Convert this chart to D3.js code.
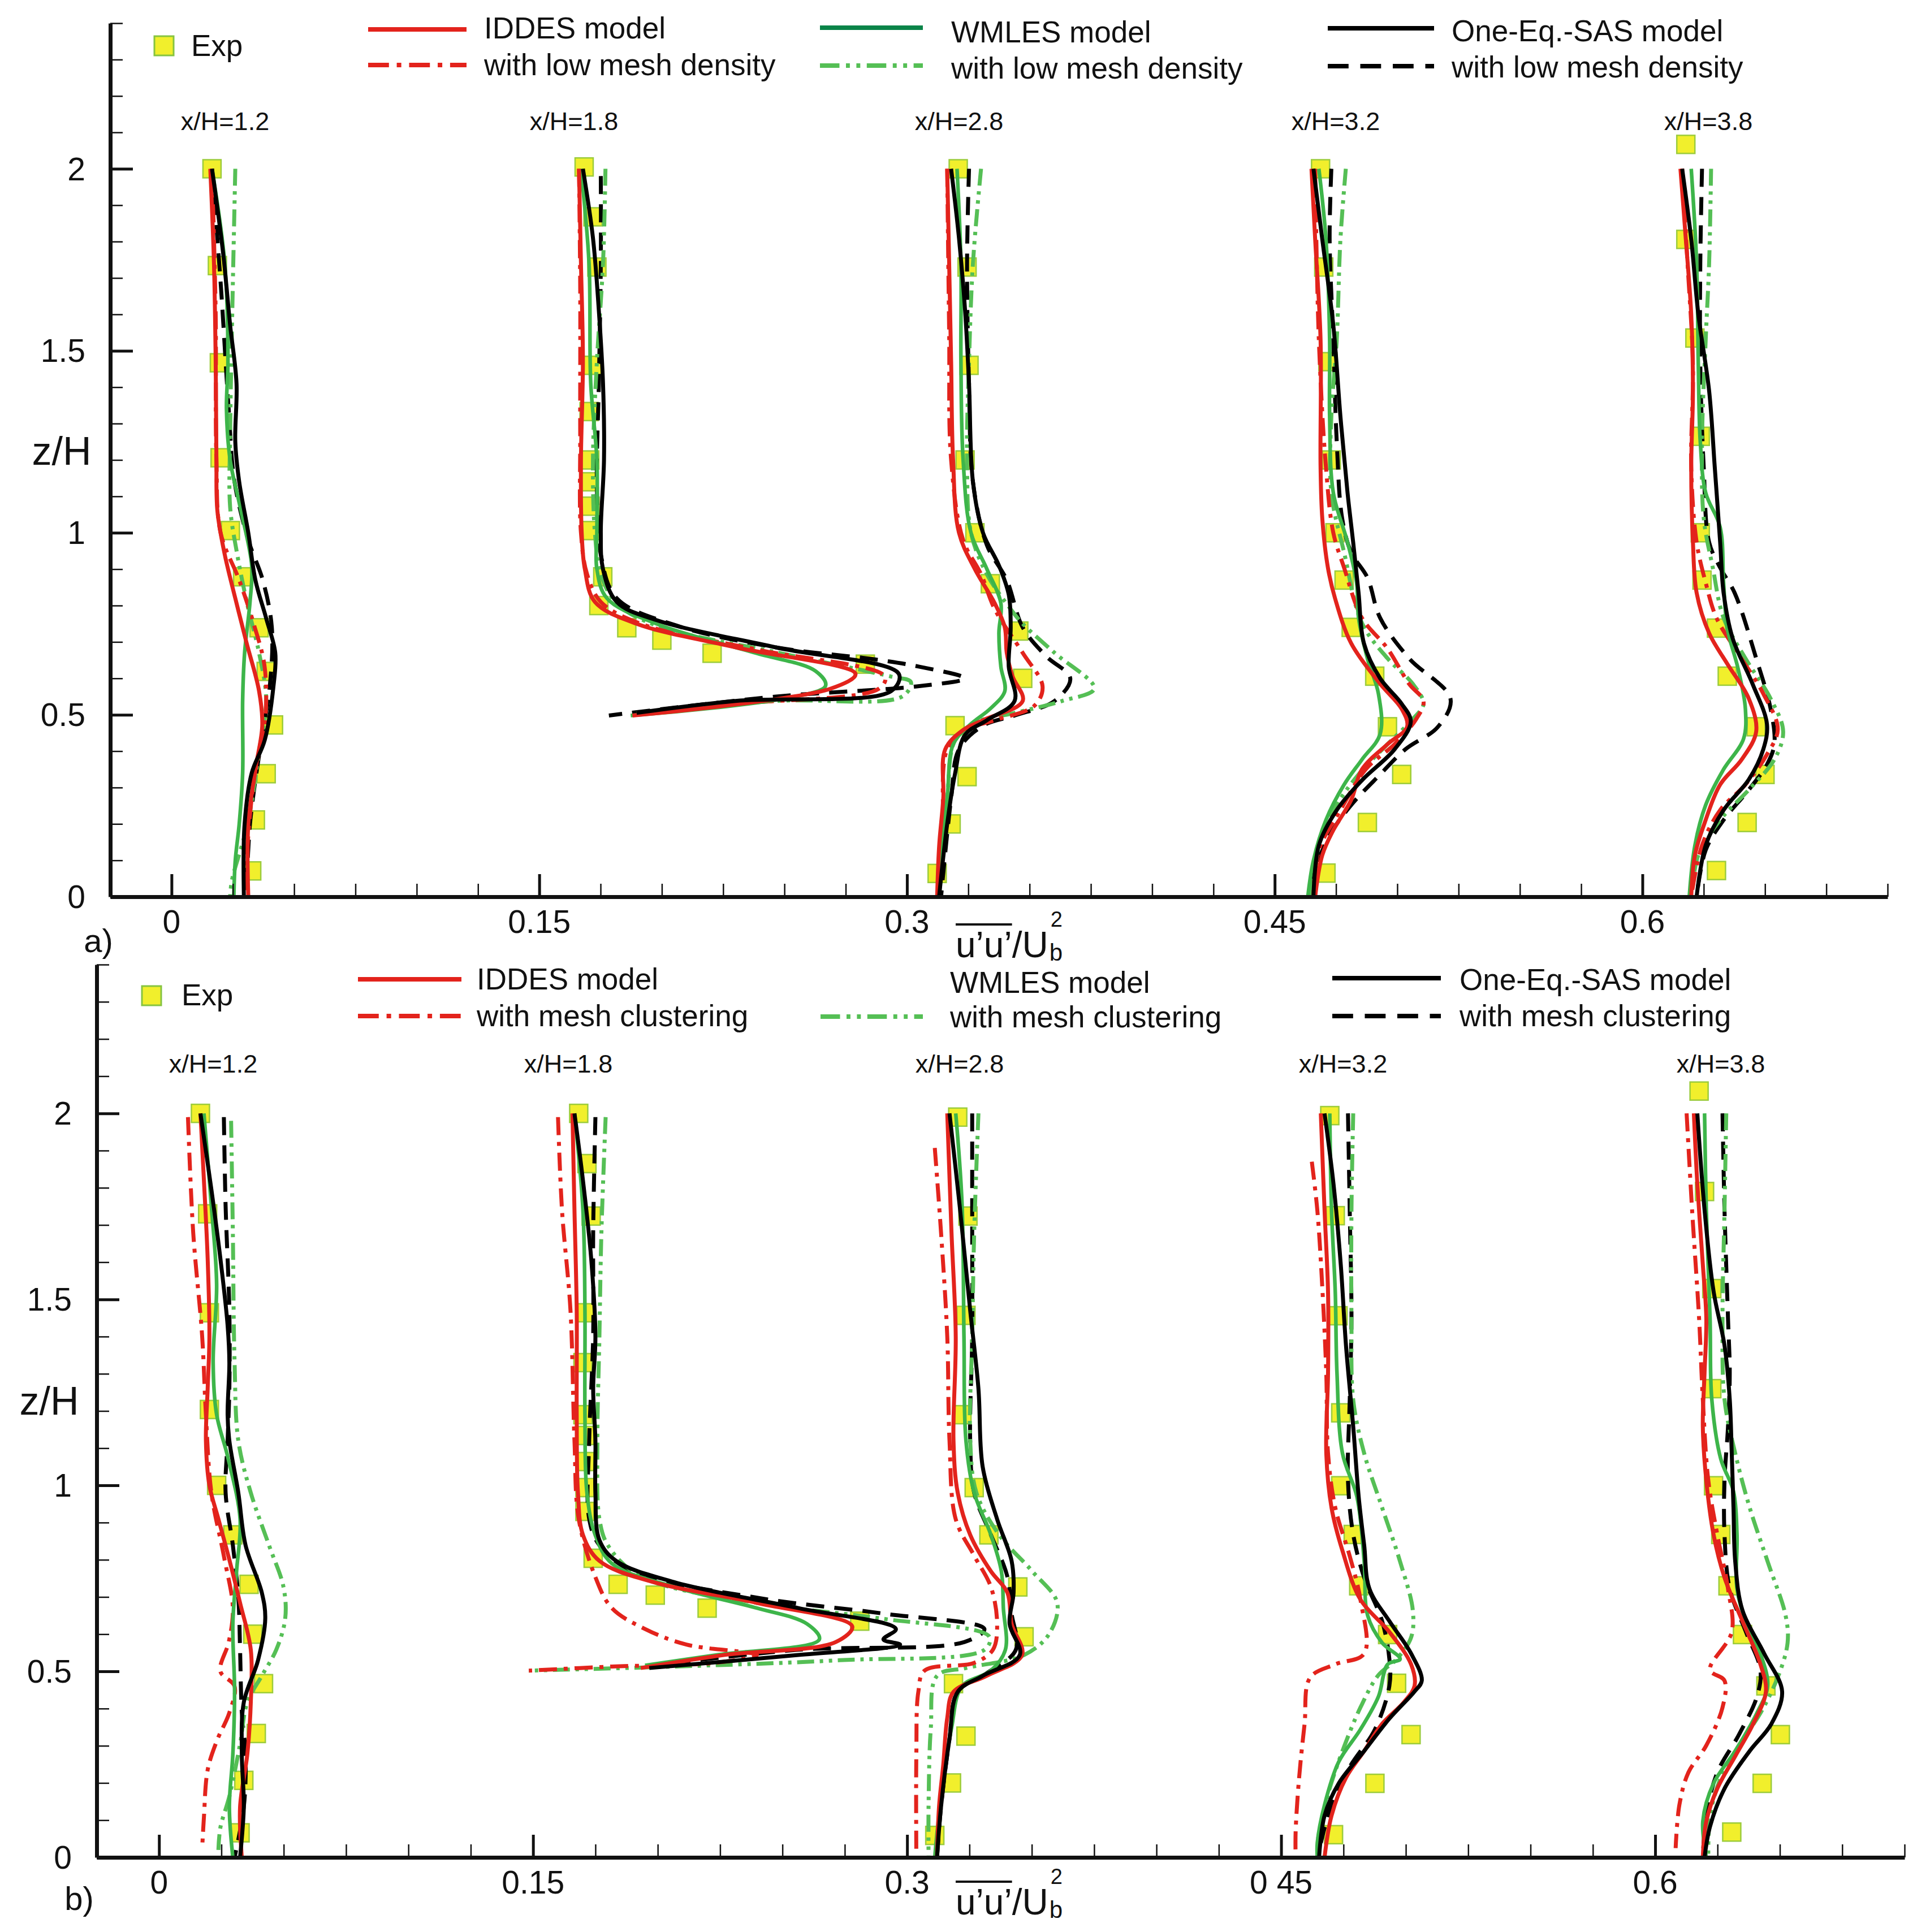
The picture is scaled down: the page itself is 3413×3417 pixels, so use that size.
<!DOCTYPE html>
<html><head><meta charset="utf-8">
<script src="https://cdn.jsdelivr.net/npm/d3@7"></script>
<style>
body{margin:0;background:#fff}
svg{display:block}
text{font-family:"Liberation Sans",Arial,Helvetica,sans-serif;fill:#111}
</style>
</head><body>
<svg id="chart" width="3413" height="3417"></svg>
<script>
// ---------------- data ----------------
const stationLabels = ["x/H=1.2","x/H=1.8","x/H=2.8","x/H=3.2","x/H=3.8"];
const stationOffsets = [0, 0.15, 0.3, 0.45, 0.6];
const xMajorTicks = [0, 0.15, 0.3, 0.45, 0.6];
const xTickLabelsA = ["0","0.15","0.3","0.45","0.6"];
const xTickLabelsB = ["0","0.15","0.3","0 45","0.6"];
const yMajorTicks = [0, 0.5, 1, 1.5, 2];
const yTickLabels = ["0","0.5","1","1.5","2"];
const legendNamesA = ["Exp","IDDES model","with low mesh density","WMLES model","with low mesh density","One-Eq.-SAS model","with low mesh density"];
const legendNamesB = ["Exp","IDDES model","with mesh clustering","WMLES model","with mesh clustering","One-Eq.-SAS model","with mesh clustering"];

// each series: one array per station, points are [u'u'/Ub^2, z/H]
// ---- panel a ----
const a_exp = [
 [[0.0165,2.0],[0.0187,1.734],[0.0195,1.467],[0.0198,1.206],[0.024,1.006],[0.029,0.879],[0.0357,0.739],[0.0386,0.619],[0.0416,0.472],[0.0386,0.338],[0.0342,0.211],[0.0327,0.071]],
 [[0.0183,2.005],[0.0219,1.868],[0.0235,1.73],[0.0219,1.46],[0.0203,1.333],[0.0206,1.2],[0.0203,1.14],[0.0207,1.073],[0.021,1.006],[0.0259,0.879],[0.0243,0.80],[0.0357,0.739],[0.05,0.705],[0.0705,0.669],[0.133,0.639]],
 [[0.0209,2.0],[0.0245,1.73],[0.0253,1.46],[0.0237,1.2],[0.0277,1.0],[0.034,0.86],[0.0456,0.73],[0.0472,0.6],[0.0196,0.47],[0.0245,0.33],[0.018,0.2],[0.0123,0.064]],
 [[0.0187,2.0],[0.02,1.73],[0.0217,1.47],[0.0231,1.2],[0.0246,1.0],[0.0283,0.87],[0.0312,0.74],[0.0408,0.606],[0.046,0.467],[0.0518,0.336],[0.0378,0.204],[0.0209,0.065]],
 [[0.0177,2.067],[0.0177,1.806],[0.0214,1.535],[0.0236,1.265],[0.0236,1.0],[0.0243,0.87],[0.0302,0.738],[0.0346,0.606],[0.0464,0.467],[0.05,0.336],[0.0427,0.204],[0.0302,0.072]]
];
const a_IDDES = [
 [[0.0158,2.0],[0.0173,1.74],[0.018,1.47],[0.0183,1.2],[0.0187,1.06],[0.0217,0.94],[0.026,0.82],[0.0305,0.70],[0.0357,0.565],[0.037,0.47],[0.0342,0.35],[0.0313,0.2],[0.0313,0]],
 [[0.0162,2.0],[0.017,1.74],[0.0178,1.47],[0.017,1.2],[0.0173,1.0],[0.0186,0.9],[0.0227,0.81],[0.0397,0.75],[0.0803,0.685],[0.129,0.612],[0.119,0.572],[0.038,0.498]],
 [[0.0164,2],[0.0172,1.74],[0.018,1.47],[0.0188,1.2],[0.0212,1.0],[0.0277,0.9],[0.0358,0.806],[0.0399,0.74],[0.0407,0.67],[0.0431,0.605],[0.0472,0.538],[0.031,0.485],[0.0229,0.458],[0.0156,0.405],[0.0148,0.27],[0.0131,0.138],[0.0123,0]],
 [[0.015,2],[0.0165,1.806],[0.0187,1.53],[0.0187,1.18],[0.0194,1.04],[0.0217,0.904],[0.0246,0.82],[0.0312,0.696],[0.043,0.585],[0.0518,0.516],[0.054,0.467],[0.046,0.419],[0.0356,0.35],[0.0312,0.266],[0.0239,0.183],[0.0194,0.114],[0.0165,0]],
 [[0.0155,2],[0.0177,1.806],[0.0199,1.6],[0.0206,1.39],[0.0199,1.18],[0.0206,0.974],[0.0221,0.835],[0.0272,0.724],[0.0346,0.64],[0.0434,0.544],[0.0464,0.454],[0.0405,0.377],[0.0317,0.308],[0.0258,0.211],[0.0214,0.114],[0.0199,0]]
];
const a_IDDES_low = [
 [[0.0165,2],[0.018,1.6],[0.0183,1.2],[0.02,1.0],[0.0276,0.87],[0.0335,0.75],[0.038,0.63],[0.038,0.47],[0.034,0.34],[0.031,0.14],[0.0305,0]],
 [[0.0162,2],[0.0167,1.67],[0.0167,1.27],[0.017,1.0],[0.0195,0.886],[0.0251,0.81],[0.0413,0.75],[0.088,0.68],[0.141,0.605],[0.1386,0.572],[0.08,0.53],[0.0381,0.5]],
 [[0.0164,2],[0.0172,1.55],[0.018,1.2],[0.0229,0.98],[0.0302,0.886],[0.0358,0.79],[0.0472,0.67],[0.0553,0.578],[0.052,0.525],[0.0358,0.485],[0.0237,0.458],[0.0164,0.405],[0.0145,0.2],[0.0128,0]],
 [[0.0165,2],[0.018,1.53],[0.0209,1.18],[0.0239,1.0],[0.0283,0.904],[0.0356,0.766],[0.046,0.682],[0.0548,0.585],[0.0607,0.537],[0.0577,0.488],[0.0489,0.419],[0.0371,0.35],[0.0268,0.238],[0.018,0.128],[0.0158,0]],
 [[0.0162,2],[0.0184,1.74],[0.0206,1.46],[0.0199,1.18],[0.0221,0.974],[0.0258,0.863],[0.0302,0.766],[0.039,0.669],[0.0493,0.558],[0.0552,0.46],[0.0508,0.391],[0.042,0.308],[0.0317,0.238],[0.0243,0.141],[0.0199,0]]
];
const a_WMLES = [
 [[0.0165,2],[0.0217,1.74],[0.023,1.47],[0.0224,1.34],[0.0239,1.2],[0.028,1.07],[0.0327,0.91],[0.032,0.81],[0.0298,0.67],[0.029,0.54],[0.029,0.34],[0.0276,0.2],[0.026,0.1],[0.0254,0]],
 [[0.017,2],[0.0203,1.74],[0.021,1.41],[0.0235,1.2],[0.0235,1.0],[0.0235,0.9],[0.0276,0.82],[0.0478,0.75],[0.088,0.67],[0.1127,0.62],[0.1167,0.578],[0.0373,0.498]],
 [[0.0204,2],[0.022,1.74],[0.022,1.47],[0.0229,1.2],[0.0261,1.0],[0.0326,0.9],[0.0383,0.806],[0.0375,0.725],[0.0383,0.632],[0.0399,0.565],[0.0342,0.518],[0.0253,0.47],[0.0188,0.418],[0.0164,0.27],[0.0139,0.138],[0.0131,0]],
 [[0.018,2],[0.0209,1.806],[0.0224,1.53],[0.0224,1.32],[0.0239,1.11],[0.0297,0.974],[0.0334,0.863],[0.0342,0.766],[0.0378,0.655],[0.0423,0.558],[0.043,0.447],[0.0356,0.377],[0.0283,0.308],[0.0209,0.211],[0.0158,0.1],[0.0135,0]],
 [[0.0199,2],[0.0221,1.74],[0.0228,1.46],[0.0236,1.25],[0.0258,1.11],[0.0317,1.015],[0.0331,0.863],[0.0346,0.738],[0.039,0.627],[0.042,0.516],[0.0412,0.433],[0.0331,0.35],[0.0258,0.252],[0.0214,0.141],[0.0191,0]]
];
const a_WMLES_low = [
 [[0.026,2],[0.0246,1.55],[0.0239,1.27],[0.0239,1.07],[0.0268,0.94],[0.031,0.8],[0.0357,0.67],[0.0386,0.54],[0.0357,0.4],[0.031,0.2],[0.0246,0.044],[0.0239,0]],
 [[0.027,2],[0.026,1.74],[0.0235,1.47],[0.0219,1.2],[0.0227,1.0],[0.0251,0.886],[0.0316,0.806],[0.0478,0.745],[0.0965,0.672],[0.1435,0.605],[0.1516,0.59],[0.148,0.55],[0.0965,0.538],[0.0397,0.505]],
 [[0.0302,2],[0.0269,1.74],[0.0253,1.47],[0.0245,1.2],[0.0261,1.0],[0.0326,0.886],[0.0423,0.79],[0.0472,0.75],[0.0602,0.67],[0.0764,0.572],[0.0634,0.538],[0.044,0.505],[0.0277,0.478],[0.0196,0.43],[0.0164,0.27],[0.0131,0]],
 [[0.029,2],[0.0268,1.806],[0.0253,1.53],[0.0231,1.32],[0.0231,1.11],[0.0283,0.946],[0.0356,0.752],[0.046,0.655],[0.0563,0.585],[0.0607,0.53],[0.0563,0.488],[0.046,0.419],[0.0342,0.336],[0.0253,0.252],[0.018,0.141],[0.0143,0]],
 [[0.028,2],[0.0272,1.74],[0.0258,1.53],[0.0243,1.25],[0.025,1.04],[0.0287,0.904],[0.0331,0.766],[0.042,0.655],[0.0523,0.544],[0.0574,0.454],[0.0538,0.377],[0.0434,0.294],[0.0317,0.211],[0.0228,0.114],[0.0199,0]]
];
const a_SAS = [
 [[0.0165,2],[0.021,1.77],[0.0239,1.57],[0.0265,1.41],[0.026,1.25],[0.0276,1.14],[0.0313,1.0],[0.0342,0.87],[0.0386,0.765],[0.0423,0.67],[0.0416,0.58],[0.038,0.43],[0.0327,0.34],[0.0298,0.2],[0.0295,0]],
 [[0.0178,2],[0.0219,1.81],[0.0243,1.61],[0.026,1.41],[0.0264,1.2],[0.0251,1.0],[0.026,0.9],[0.0316,0.81],[0.0478,0.76],[0.0965,0.685],[0.1467,0.612],[0.1435,0.565],[0.08,0.538],[0.0397,0.505]],
 [[0.018,2],[0.0212,1.81],[0.0237,1.61],[0.0253,1.41],[0.0269,1.14],[0.031,1.0],[0.0375,0.91],[0.0415,0.83],[0.0423,0.74],[0.0415,0.632],[0.0439,0.538],[0.0326,0.485],[0.0237,0.445],[0.0196,0.338],[0.0164,0.2],[0.0131,0]],
 [[0.0158,2],[0.0194,1.806],[0.0239,1.57],[0.0268,1.32],[0.0297,1.11],[0.032,0.974],[0.0342,0.835],[0.0364,0.696],[0.043,0.6],[0.0518,0.53],[0.0555,0.481],[0.0489,0.405],[0.0356,0.32],[0.0253,0.238],[0.018,0.141],[0.0158,0]],
 [[0.0162,2],[0.0199,1.806],[0.0228,1.6],[0.0272,1.39],[0.0295,1.18],[0.0317,0.974],[0.0331,0.835],[0.0368,0.71],[0.0449,0.585],[0.0508,0.474],[0.0493,0.405],[0.0434,0.322],[0.0331,0.238],[0.0258,0.141],[0.0221,0]]
];
const a_SAS_low = [
 [[0.0165,2],[0.0202,1.67],[0.0232,1.35],[0.0257,1.14],[0.0313,0.98],[0.0372,0.87],[0.0409,0.74],[0.0401,0.58],[0.0364,0.42],[0.032,0.2],[0.0305,0]],
 [[0.0251,1.98],[0.0251,1.74],[0.0243,1.41],[0.0235,1.14],[0.0251,0.94],[0.0316,0.82],[0.056,0.745],[0.0965,0.685],[0.137,0.652],[0.155,0.632],[0.1735,0.6],[0.154,0.578],[0.0965,0.55],[0.0284,0.498]],
 [[0.0253,2],[0.0245,1.74],[0.0253,1.41],[0.0269,1.14],[0.0326,0.966],[0.0407,0.87],[0.0472,0.74],[0.0569,0.66],[0.0666,0.6],[0.0602,0.538],[0.0439,0.498],[0.031,0.47],[0.0212,0.405],[0.018,0.27],[0.0139,0]],
 [[0.0231,2],[0.0224,1.806],[0.0239,1.53],[0.0253,1.25],[0.0275,1.04],[0.0312,0.946],[0.0378,0.877],[0.043,0.766],[0.0548,0.655],[0.0717,0.544],[0.0666,0.467],[0.0533,0.405],[0.043,0.336],[0.0312,0.252],[0.0224,0.169],[0.0165,0.072],[0.015,0]],
 [[0.0243,2],[0.0236,1.74],[0.0236,1.46],[0.025,1.18],[0.0272,0.974],[0.0317,0.904],[0.0376,0.835],[0.0464,0.655],[0.0523,0.516],[0.0538,0.419],[0.0508,0.363],[0.0434,0.294],[0.0331,0.211],[0.0258,0.128],[0.0221,0]]
];
// ---- panel b ----
const b_exp = [
 [[0.0166,2.0],[0.0195,1.73],[0.0202,1.464],[0.0202,1.204],[0.0231,1.0],[0.0296,0.867],[0.0361,0.734],[0.0376,0.6],[0.0419,0.467],[0.039,0.333],[0.034,0.207],[0.0325,0.066]],
 [[0.0183,2],[0.0216,1.865],[0.0233,1.724],[0.0208,1.464],[0.02,1.33],[0.02,1.19],[0.0208,1.134],[0.0208,1.064],[0.0208,0.994],[0.0208,0.93],[0.0241,0.804],[0.0341,0.734],[0.049,0.705],[0.0698,0.67],[0.131,0.635]],
 [[0.0203,1.99],[0.0244,1.724],[0.0236,1.457],[0.022,1.19],[0.0269,0.994],[0.0328,0.867],[0.0444,0.727],[0.0469,0.593],[0.0186,0.467],[0.0236,0.326],[0.0178,0.2],[0.0111,0.059]],
 [[0.0195,1.994],[0.0217,1.725],[0.0228,1.456],[0.0239,1.195],[0.0239,0.999],[0.0289,0.868],[0.0311,0.73],[0.0427,0.599],[0.0463,0.468],[0.0521,0.33],[0.0376,0.199],[0.021,0.061]],
 [[0.0176,2.06],[0.0198,1.79],[0.0227,1.529],[0.0227,1.26],[0.0234,0.999],[0.0263,0.868],[0.0292,0.73],[0.035,0.599],[0.0444,0.461],[0.0502,0.33],[0.0429,0.199],[0.0307,0.068]]
];
const b_IDDES = [
 [[0.0166,2],[0.018,1.82],[0.0195,1.61],[0.0202,1.4],[0.0195,1.26],[0.0188,1.12],[0.0202,1.0],[0.0238,0.91],[0.0282,0.8],[0.0325,0.684],[0.0368,0.558],[0.0368,0.417],[0.0354,0.277],[0.0325,0.136],[0.0332,0]],
 [[0.0158,2],[0.0166,1.74],[0.0175,1.47],[0.0175,1.19],[0.018,0.98],[0.02,0.867],[0.0266,0.797],[0.0482,0.74],[0.0898,0.684],[0.128,0.621],[0.1214,0.579],[0.0765,0.544],[0.0432,0.509]],
 [[0.0161,2],[0.0178,1.68],[0.0195,1.4],[0.0186,1.12],[0.0203,0.98],[0.0253,0.867],[0.0336,0.769],[0.0402,0.712],[0.0419,0.628],[0.0461,0.544],[0.0319,0.488],[0.0186,0.445],[0.0161,0.375],[0.0145,0.249],[0.0128,0.136],[0.012,0]],
 [[0.0159,2],[0.0174,1.74],[0.0188,1.52],[0.0188,1.3],[0.0181,1.086],[0.0202,0.94],[0.0246,0.824],[0.0318,0.693],[0.0434,0.606],[0.0521,0.519],[0.0535,0.461],[0.0492,0.417],[0.0405,0.359],[0.0333,0.286],[0.026,0.214],[0.0202,0.112],[0.0174,0]],
 [[0.0155,2],[0.0169,1.81],[0.0191,1.594],[0.0205,1.449],[0.0198,1.304],[0.0191,1.158],[0.0205,1.013],[0.0234,0.868],[0.0278,0.752],[0.035,0.635],[0.0422,0.519],[0.0444,0.446],[0.0393,0.359],[0.0321,0.272],[0.0249,0.185],[0.0205,0.097],[0.0191,0]]
];
const b_IDDES_clu = [
 [[0.0116,1.99],[0.0137,1.68],[0.0173,1.4],[0.0188,1.19],[0.021,0.98],[0.026,0.81],[0.0296,0.67],[0.028,0.58],[0.0246,0.5],[0.0303,0.46],[0.0282,0.389],[0.0231,0.312],[0.0195,0.235],[0.018,0.108],[0.0173,0.024]],
 [[0.01,1.99],[0.0116,1.74],[0.015,1.47],[0.0166,1.12],[0.0183,0.91],[0.0249,0.755],[0.0316,0.67],[0.0449,0.614],[0.0615,0.572],[0.0898,0.544],[0.073,0.523],[0.0316,0.513],[-0.0017,0.502]],
 [[0.0111,1.907],[0.0136,1.68],[0.0161,1.4],[0.017,1.12],[0.0195,0.909],[0.0269,0.811],[0.0336,0.727],[0.0361,0.628],[0.0344,0.558],[0.0269,0.523],[0.007,0.502],[0.0045,0.445],[0.0037,0.277],[0.0037,0]],
 [[0.0123,1.87],[0.0145,1.74],[0.0166,1.52],[0.0181,1.3],[0.0188,1.086],[0.0217,0.94],[0.0275,0.81],[0.0318,0.693],[0.0333,0.548],[0.0217,0.519],[0.0116,0.483],[0.0094,0.359],[0.0072,0.214],[0.0058,0.068],[0.0058,0]],
 [[0.0126,2],[0.0148,1.74],[0.0176,1.449],[0.0191,1.231],[0.0213,1.013],[0.0249,0.868],[0.0292,0.722],[0.0307,0.606],[0.022,0.504],[0.0278,0.475],[0.027,0.403],[0.0205,0.301],[0.0133,0.228],[0.0097,0.141],[0.0082,0.025]]
];
const b_WMLES = [
 [[0.018,2],[0.021,1.75],[0.0231,1.54],[0.0217,1.33],[0.0231,1.19],[0.0275,1.078],[0.0325,0.91],[0.0311,0.77],[0.0296,0.628],[0.0303,0.445],[0.0296,0.277],[0.0282,0.136],[0.0296,0]],
 [[0.0166,2],[0.02,1.74],[0.0208,1.47],[0.0208,1.19],[0.0216,0.98],[0.0249,0.867],[0.0316,0.79],[0.0565,0.727],[0.0898,0.67],[0.1098,0.628],[0.1148,0.586],[0.0732,0.544],[0.0449,0.516]],
 [[0.0195,2],[0.022,1.76],[0.0228,1.4],[0.0236,1.12],[0.0269,0.98],[0.0336,0.867],[0.0378,0.769],[0.0386,0.67],[0.0394,0.558],[0.0336,0.502],[0.022,0.46],[0.0178,0.347],[0.0145,0.206],[0.012,0.066],[0.0111,0]],
 [[0.0195,2],[0.0202,1.74],[0.0217,1.52],[0.0224,1.3],[0.0246,1.086],[0.0304,0.969],[0.0333,0.795],[0.0347,0.65],[0.0405,0.577],[0.0477,0.533],[0.0427,0.519],[0.039,0.432],[0.0318,0.344],[0.0231,0.257],[0.0174,0.141],[0.0145,0.039],[0.0145,0]],
 [[0.0198,2],[0.0205,1.74],[0.022,1.449],[0.0227,1.231],[0.0263,1.071],[0.0314,0.984],[0.0328,0.868],[0.0328,0.722],[0.0364,0.635],[0.0422,0.548],[0.0451,0.461],[0.0408,0.388],[0.0321,0.286],[0.0234,0.199],[0.0191,0.097],[0.0205,0]]
];
const b_WMLES_clu = [
 [[0.0289,1.98],[0.0296,1.68],[0.0303,1.33],[0.0318,1.12],[0.0368,0.98],[0.0441,0.839],[0.0499,0.727],[0.0506,0.642],[0.047,0.558],[0.0412,0.488],[0.0354,0.417],[0.0325,0.305],[0.0282,0.164],[0.0246,0.08],[0.0238,0.02]],
 [[0.0291,1.99],[0.0274,1.68],[0.0266,1.4],[0.0258,1.12],[0.0266,0.91],[0.03,0.839],[0.0432,0.755],[0.0898,0.684],[0.1397,0.642],[0.183,0.593],[0.181,0.558],[0.123,0.53],[0.0565,0.513],[-0.0017,0.502]],
 [[0.0286,2],[0.0269,1.68],[0.0261,1.4],[0.0253,1.12],[0.0278,0.98],[0.0369,0.867],[0.0502,0.769],[0.0602,0.684],[0.0569,0.6],[0.0469,0.544],[0.0236,0.509],[0.012,0.488],[0.0095,0.347],[0.0086,0.136],[0.0086,0]],
 [[0.0289,2],[0.0282,1.74],[0.0282,1.449],[0.0289,1.23],[0.0333,1.086],[0.0405,0.94],[0.0477,0.795],[0.0528,0.664],[0.0521,0.591],[0.0463,0.533],[0.039,0.49],[0.0318,0.403],[0.0246,0.286],[0.0188,0.17],[0.0145,0.04]],
 [[0.0285,2],[0.0278,1.74],[0.027,1.449],[0.0278,1.231],[0.0321,1.086],[0.0379,0.94],[0.0451,0.795],[0.0523,0.65],[0.0531,0.577],[0.0495,0.49],[0.0422,0.388],[0.0336,0.301],[0.0263,0.214],[0.022,0.112],[0.0213,0]]
];
const b_SAS = [
 [[0.0166,2],[0.021,1.795],[0.0246,1.61],[0.0275,1.43],[0.0282,1.33],[0.0275,1.19],[0.0282,1.12],[0.0318,0.98],[0.0347,0.839],[0.0412,0.712],[0.0426,0.642],[0.0397,0.53],[0.034,0.417],[0.0332,0.277],[0.034,0.136],[0.0325,0]],
 [[0.0166,2],[0.02,1.82],[0.0233,1.61],[0.025,1.4],[0.0241,1.26],[0.025,1.12],[0.025,0.98],[0.0266,0.853],[0.0333,0.797],[0.0565,0.74],[0.1064,0.67],[0.1455,0.614],[0.1405,0.586],[0.1472,0.572],[0.1064,0.544],[0.0466,0.509]],
 [[0.017,2],[0.0211,1.75],[0.0253,1.47],[0.0286,1.26],[0.0303,1.05],[0.0361,0.909],[0.0419,0.797],[0.0427,0.712],[0.0411,0.628],[0.0452,0.544],[0.0303,0.488],[0.0203,0.445],[0.017,0.319],[0.0136,0.136],[0.012,0]],
 [[0.0174,2],[0.021,1.81],[0.0239,1.594],[0.026,1.376],[0.0289,1.158],[0.0311,0.969],[0.0333,0.839],[0.0354,0.722],[0.0434,0.635],[0.0521,0.548],[0.0564,0.475],[0.0535,0.446],[0.0434,0.373],[0.0333,0.286],[0.0231,0.199],[0.0174,0.112],[0.0152,0]],
 [[0.0169,2],[0.0198,1.74],[0.0234,1.522],[0.0278,1.376],[0.0299,1.231],[0.0307,1.086],[0.0314,0.94],[0.0321,0.795],[0.035,0.664],[0.0437,0.548],[0.0509,0.446],[0.0466,0.359],[0.0379,0.286],[0.0278,0.185],[0.022,0.083],[0.0198,0]]
];
const b_SAS_clu = [
 [[0.026,1.99],[0.0267,1.75],[0.0282,1.47],[0.0282,1.26],[0.0275,1.12],[0.0267,0.98],[0.0296,0.839],[0.0318,0.698],[0.0325,0.558],[0.0332,0.389],[0.0347,0.277],[0.034,0.136],[0.0303,0]],
 [[0.025,1.99],[0.0241,1.68],[0.0241,1.4],[0.0225,1.12],[0.0225,0.91],[0.0266,0.839],[0.04,0.769],[0.0898,0.698],[0.1397,0.656],[0.181,0.614],[0.173,0.579],[0.1064,0.558],[0.0482,0.516]],
 [[0.0261,2],[0.0261,1.68],[0.0261,1.4],[0.0253,1.12],[0.0269,0.98],[0.0336,0.867],[0.0402,0.755],[0.0419,0.656],[0.0436,0.558],[0.0319,0.495],[0.0203,0.445],[0.017,0.319],[0.0136,0.136],[0.012,0]],
 [[0.0268,2],[0.0275,1.74],[0.0282,1.449],[0.0275,1.23],[0.0268,1.013],[0.0289,0.868],[0.0333,0.752],[0.0405,0.635],[0.0434,0.533],[0.0434,0.461],[0.0376,0.344],[0.0275,0.243],[0.0202,0.141],[0.0159,0.039]],
 [[0.027,2],[0.0278,1.74],[0.0292,1.449],[0.0299,1.304],[0.0292,1.158],[0.0278,1.013],[0.0278,0.868],[0.0299,0.722],[0.0364,0.606],[0.0422,0.504],[0.0408,0.432],[0.0336,0.33],[0.0249,0.228],[0.0205,0.112],[0.0191,0]]
];

// ---------------- styles ----------------
const RED = "#e3231c", GREEN = "#3db54a", GREEN_D = "#55bf55", GREEN_LEG = "#0a8448", BLACK = "#000";
const styles = {
  IDDES:    {color:RED,   width:7, dash:null},
  IDDES_d:  {color:RED,   width:7, dash:"32,12,7,12"},
  WMLES:    {color:GREEN, width:6.5, dash:null},
  WMLES_d:  {color:GREEN_D, width:7, dash:"30,10,6,10,6,10"},
  SAS:      {color:BLACK, width:7, dash:null},
  SAS_d:    {color:BLACK, width:7, dash:"32,18"}
};

const svg = d3.select("#chart");

function drawPanel(cfg) {
  const x = d3.scaleLinear().domain([-0.025, 0.7]).range([cfg.xl, cfg.xr]);
  const y = d3.scaleLinear().domain([0, 2.4]).range([cfg.yb, cfg.yt]);
  const g = svg.append("g");

  // experimental squares (behind lines)
  const sq = 32;
  cfg.exp.forEach((pts, i) => {
    g.selectAll(null).data(pts).enter().append("rect")
      .attr("x", d => x(stationOffsets[i] + d[0]) - sq/2)
      .attr("y", d => y(d[1]) - sq/2)
      .attr("width", sq).attr("height", sq)
      .attr("fill", "#f1ef2c").attr("stroke", "#9ccc3c").attr("stroke-width", 2.5);
  });

  const line = d3.line().curve(d3.curveCatmullRom.alpha(0.5));
  const drawSeries = (arr, st) => {
    arr.forEach((pts, i) => {
      g.append("path")
        .attr("d", line(pts.map(d => [x(stationOffsets[i] + d[0]), y(d[1])])))
        .attr("fill", "none").attr("stroke", st.color).attr("stroke-width", st.width)
        .attr("stroke-linejoin", "round")
        .attr("stroke-dasharray", st.dash);
    });
  };
  drawSeries(cfg.sasD, styles.SAS_d);
  drawSeries(cfg.wmD, styles.WMLES_d);
  drawSeries(cfg.idD, styles.IDDES_d);
  drawSeries(cfg.wm, styles.WMLES);
  drawSeries(cfg.id, styles.IDDES);
  drawSeries(cfg.sas, styles.SAS);

  // axes
  const xMinor = d3.range(-1, 29).map(k => +(k * 0.025).toFixed(3)).filter(v => !xMajorTicks.some(m => Math.abs(m - v) < 1e-6));
  const yMinor = d3.range(0, 25).map(k => +(k * 0.1).toFixed(2)).filter(v => !yMajorTicks.some(m => Math.abs(m - v) < 1e-6));

  const xa = g.append("g").attr("transform", `translate(0,${cfg.yb})`);
  xa.call(d3.axisBottom(x).tickValues(xMinor).tickSize(-23).tickSizeOuter(0).tickFormat(""));
  xa.selectAll(".tick line").attr("stroke", "#111").attr("stroke-width", 2.5);
  xa.select(".domain").remove();
  const xb = g.append("g").attr("transform", `translate(0,${cfg.yb})`);
  xb.call(d3.axisBottom(x).tickValues(xMajorTicks).tickSize(-40).tickSizeOuter(0).tickFormat(""));
  xb.selectAll(".tick line").attr("stroke", "#111").attr("stroke-width", 5);
  xb.select(".domain").attr("stroke", "#111").attr("stroke-width", 7);

  const ya = g.append("g").attr("transform", `translate(${cfg.xl},0)`);
  ya.call(d3.axisLeft(y).tickValues(yMinor).tickSize(-22).tickSizeOuter(0).tickFormat(""));
  ya.selectAll(".tick line").attr("stroke", "#111").attr("stroke-width", 2.5);
  ya.select(".domain").remove();
  const yb = g.append("g").attr("transform", `translate(${cfg.xl},0)`);
  yb.call(d3.axisLeft(y).tickValues(yMajorTicks).tickSize(-40).tickSizeOuter(0).tickFormat(""));
  yb.selectAll(".tick line").attr("stroke", "#111").attr("stroke-width", 5);
  yb.select(".domain").attr("stroke", "#111").attr("stroke-width", 7);

  // tick labels
  g.selectAll(null).data(xMajorTicks).enter().append("text")
    .attr("x", d => x(d)).attr("y", cfg.yb + 64)
    .attr("text-anchor", "middle").attr("font-size", 57)
    .text((d, i) => cfg.xLabels[i]);
  g.selectAll(null).data(yMajorTicks).enter().append("text")
    .attr("x", cfg.xl - 44).attr("y", d => y(d) + 20)
    .attr("text-anchor", "end").attr("font-size", 57)
    .text((d, i) => yTickLabels[i]);

  // station labels
  stationLabels.forEach((s, i) => {
    g.append("text").attr("x", cfg.stX[i]).attr("y", cfg.stY)
      .attr("text-anchor", "middle").attr("font-size", 45).text(s);
  });

  // axis titles
  g.append("text").attr("x", cfg.zx).attr("y", cfg.zy).attr("text-anchor", "middle")
    .attr("font-size", 70).text("z/H");
  g.append("text").attr("x", cfg.px).attr("y", cfg.py).attr("text-anchor", "middle")
    .attr("font-size", 58).text(cfg.panelLabel);

  const t0 = g.append("text").attr("x", 1690).attr("y", cfg.ty).attr("font-size", 64);
  const t1 = t0.append("tspan").text("u\u2019u\u2019");
  t0.append("tspan").text("/U");
  const wAll = t0.node().getComputedTextLength();
  const wU = t1.node().getComputedTextLength();
  g.append("line").attr("x1", 1690).attr("x2", 1690 + wU).attr("y1", cfg.ty - 58).attr("y2", cfg.ty - 58)
    .attr("stroke", "#111").attr("stroke-width", 4);
  g.append("text").attr("x", 1690 + wAll + 2).attr("y", cfg.ty + 6).attr("font-size", 42).text("b");
  g.append("text").attr("x", 1690 + wAll + 4).attr("y", cfg.ty - 54).attr("font-size", 38).text("2");

  // legend
  const L = cfg.leg;
  const names = cfg.legNames;
  g.append("rect").attr("x", L.exp[0] - 17).attr("y", L.exp[1] - 17).attr("width", 34).attr("height", 34)
    .attr("fill", "#f1ef2c").attr("stroke", "#86c440").attr("stroke-width", 3);
  g.append("text").attr("x", L.exp[2]).attr("y", L.exp[3]).attr("font-size", 53).text(names[0]);
  const entries = [
    {st: styles.IDDES, lc: RED, row: L.id1, name: names[1], draw: true},
    {st: styles.IDDES_d, lc: RED, row: L.id2, name: names[2], draw: true},
    {st: styles.WMLES, lc: GREEN_LEG, row: L.wm1, name: names[3], draw: cfg.showWmLine},
    {st: styles.WMLES_d, lc: GREEN_D, row: L.wm2, name: names[4], draw: true},
    {st: styles.SAS, lc: BLACK, row: L.sa1, name: names[5], draw: true},
    {st: styles.SAS_d, lc: BLACK, row: L.sa2, name: names[6], draw: true}
  ];
  entries.forEach(e => {
    const [x1, x2, ly, tx, ty] = e.row;
    if (e.draw) {
      g.append("line").attr("x1", x1).attr("x2", x2).attr("y1", ly).attr("y2", ly)
        .attr("stroke", e.lc).attr("stroke-width", 8)
        .attr("stroke-dasharray", e.st.dash ? e.st.dash.split(",").map(v => +v * 1.15).join(",") : null);
    }
    g.append("text").attr("x", tx).attr("y", ty).attr("font-size", 53).text(e.name);
  });
}

drawPanel({
  xl: 195, xr: 3338, yb: 1586, yt: 41,
  exp: a_exp, id: a_IDDES, idD: a_IDDES_low, wm: a_WMLES, wmD: a_WMLES_low, sas: a_SAS, sasD: a_SAS_low,
  xLabels: xTickLabelsA,
  stX: [398, 1015, 1696, 2362, 3021], stY: 230,
  zx: 109, zy: 822, px: 174, py: 1684, panelLabel: "a)", ty: 1693,
  legNames: legendNamesA, showWmLine: true,
  leg: {
    exp: [290, 81, 338, 99],
    id1: [651, 825, 52, 856, 68],  id2: [651, 825, 115, 856, 133],
    wm1: [1450, 1632, 49, 1682, 75], wm2: [1450, 1632, 116, 1682, 139],
    sa1: [2348, 2536, 50, 2567, 73], sa2: [2348, 2536, 117, 2567, 137]
  }
});

drawPanel({
  xl: 171, xr: 3368, yb: 3285, yt: 1706,
  exp: b_exp, id: b_IDDES, idD: b_IDDES_clu, wm: b_WMLES, wmD: b_WMLES_clu, sas: b_SAS, sasD: b_SAS_clu,
  xLabels: xTickLabelsB,
  stX: [377, 1005, 1697, 2375, 3043], stY: 1897,
  zx: 87, zy: 2502, px: 140, py: 3378, panelLabel: "b)", ty: 3386,
  legNames: legendNamesB, showWmLine: false,
  leg: {
    exp: [268, 1761, 321, 1778],
    id1: [633, 816, 1732, 843, 1750], id2: [633, 816, 1797, 843, 1815],
    wm1: [1451, 1632, 1732, 1680, 1756], wm2: [1451, 1632, 1798, 1680, 1817],
    sa1: [2356, 2548, 1730, 2581, 1751], sa2: [2356, 2548, 1797, 2581, 1815]
  }
});
</script>
</body></html>
